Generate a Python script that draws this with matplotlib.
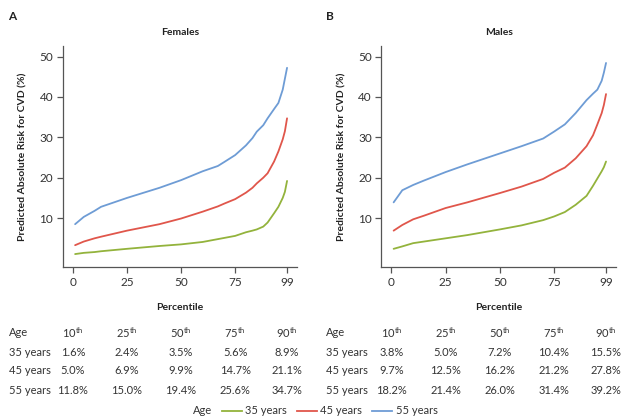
import matplotlib
matplotlib.use("Agg")
import matplotlib.pyplot as plt
from matplotlib.transforms import blended_transform_factory
from matplotlib.lines import Line2D

plt.rcParams['font.family'] = ['Lato', 'DejaVu Sans']
plt.rcParams['mathtext.fontset'] = 'custom'
plt.rcParams['mathtext.rm'] = 'Lato'

# ---- data ----
pct_f = [1, 5, 10, 13, 25, 40, 50, 60, 67, 70, 75, 80, 83, 85, 88, 90, 93, 95, 97, 98, 99]
f35 = [1.1, 1.4, 1.6, 1.8, 2.4, 3.1, 3.5, 4.1, 4.8, 5.1, 5.6, 6.5, 6.9, 7.2, 7.9, 8.9, 11.2, 12.8, 15.0, 16.5, 19.2]
f45 = [3.3, 4.2, 5.0, 5.4, 6.9, 8.5, 9.9, 11.6, 12.9, 13.6, 14.7, 16.3, 17.5, 18.6, 20.0, 21.1, 24.0, 26.5, 29.5, 31.5, 34.7]
f55 = [8.5, 10.3, 11.8, 12.8, 15.0, 17.5, 19.4, 21.6, 22.9, 23.9, 25.6, 28.0, 29.8, 31.4, 33.0, 34.7, 37.0, 38.5, 41.8, 44.5, 47.2]

pct_m = [1, 5, 10, 15, 25, 35, 50, 60, 70, 75, 80, 85, 90, 93, 95, 97, 98, 99]
m35 = [2.4, 3.0, 3.8, 4.2, 5.0, 5.8, 7.2, 8.2, 9.5, 10.4, 11.5, 13.3, 15.5, 18.0, 19.8, 21.6, 22.6, 24.0]
m45 = [6.9, 8.3, 9.7, 10.6, 12.5, 13.9, 16.2, 17.8, 19.7, 21.2, 22.5, 24.8, 27.8, 30.5, 33.2, 36.0, 38.0, 40.7]
m55 = [13.9, 16.9, 18.2, 19.3, 21.4, 23.3, 26.0, 27.8, 29.7, 31.4, 33.2, 36.0, 39.2, 40.8, 41.8, 44.0, 46.0, 48.4]

ages = ['35 years', '45 years', '55 years']
table_pcts = ['10', '25', '50', '75', '90']
female_table = [['1.6%', '2.4%', '3.5%', '5.6%', '8.9%'],
                ['5.0%', '6.9%', '9.9%', '14.7%', '21.1%'],
                ['11.8%', '15.0%', '19.4%', '25.6%', '34.7%']]
male_table = [['3.8%', '5.0%', '7.2%', '10.4%', '15.5%'],
              ['9.7%', '12.5%', '16.2%', '21.2%', '27.8%'],
              ['18.2%', '21.4%', '26.0%', '31.4%', '39.2%']]

xticks = [0, 25, 50, 75, 99]
yticks = [10, 20, 30, 40, 50]
colors = ['#93b33c', '#e0564b', '#6e9cd5']

W, H = 621, 417
fig = plt.figure(figsize=(W / 100, H / 100), dpi=100)

def fx(px):
    return px / W

def fy(py):
    return 1 - py / H

axL = fig.add_axes([fx(63), fy(267), fx(297 - 63), (267 - 46) / H])
axR = fig.add_axes([fx(381.5), fy(267), fx(616 - 381.5), (267 - 46) / H])

spine_col = '#555555'
txt_col = '#333333'
for ax, pct, series, title, label, tab, ylab_x, lab_x, age_px in [
        (axL, pct_f, [f35, f45, f55], 'Females', 'A', female_table, 23, 12, 9),
        (axR, pct_m, [m35, m45, m55], 'Males', 'B', male_table, 342, 330, 326)]:
    for s, c in zip(series, colors):
        ax.plot(pct, s, color=c, lw=1.3, solid_capstyle='round')
    ax.set_xlim(-4.6, 103.6)
    ax.set_ylim(-2.1, 52.6)
    ax.set_xticks(xticks)
    ax.set_yticks(yticks)
    ax.spines['top'].set_visible(False)
    ax.spines['right'].set_visible(False)
    for sp in ('left', 'bottom'):
        ax.spines[sp].set_color(spine_col)
        ax.spines[sp].set_linewidth(0.9)
    ax.tick_params(direction='out', length=4, width=0.9, color=spine_col,
                   labelsize=8.5, labelcolor=txt_col, pad=3)
    ax.set_title(title, fontsize=7.5, fontweight='bold', pad=8, color='#222222')
    fig.text(fx(ylab_x), (fy(267) + fy(46)) / 2, 'Predicted Absolute Risk for CVD (%)',
             rotation=90, ha='center', va='center', fontsize=7.5, fontweight='bold', color='#222222')
    fig.text(fx(lab_x), fy(17), label, ha='center', va='center', fontsize=8.5,
             fontweight='bold', color='#222222')
    tr = blended_transform_factory(ax.transData, fig.transFigure)
    ax.text(49.5, fy(307), 'Percentile', transform=tr, ha='center', va='center',
            fontsize=7.5, fontweight='bold', color='#222222')
    fig.text(fx(age_px), fy(333), 'Age', ha='left', va='center', fontsize=8, color=txt_col)
    for xp, p in zip(xticks, table_pcts):
        ax.text(xp, fy(333), p + r'$^{\mathrm{th}}$', transform=tr, ha='center', va='center',
                fontsize=8, color=txt_col)
    for r, (age, row) in enumerate(zip(ages, tab)):
        yy = fy(352 + r * 19)
        fig.text(fx(age_px), yy, age, ha='left', va='center', fontsize=8, color=txt_col)
        for xp, v in zip(xticks, row):
            ax.text(xp, yy, v, transform=tr, ha='center', va='center', fontsize=8, color=txt_col)

# legend
fig.text(fx(203), fy(411), 'Age', ha='center', va='center', fontsize=8, color=txt_col)
handles = [Line2D([0], [0], color=c, lw=1.3) for c in colors]
fig.legend(handles, ages, loc='center left', bbox_to_anchor=(fx(222), fy(411)), ncol=3,
           frameon=False, fontsize=8, handlelength=1.8, handletextpad=0.3,
           columnspacing=0.9, labelcolor=txt_col, borderpad=0, borderaxespad=0)

fig.savefig('out.png', dpi=100)
